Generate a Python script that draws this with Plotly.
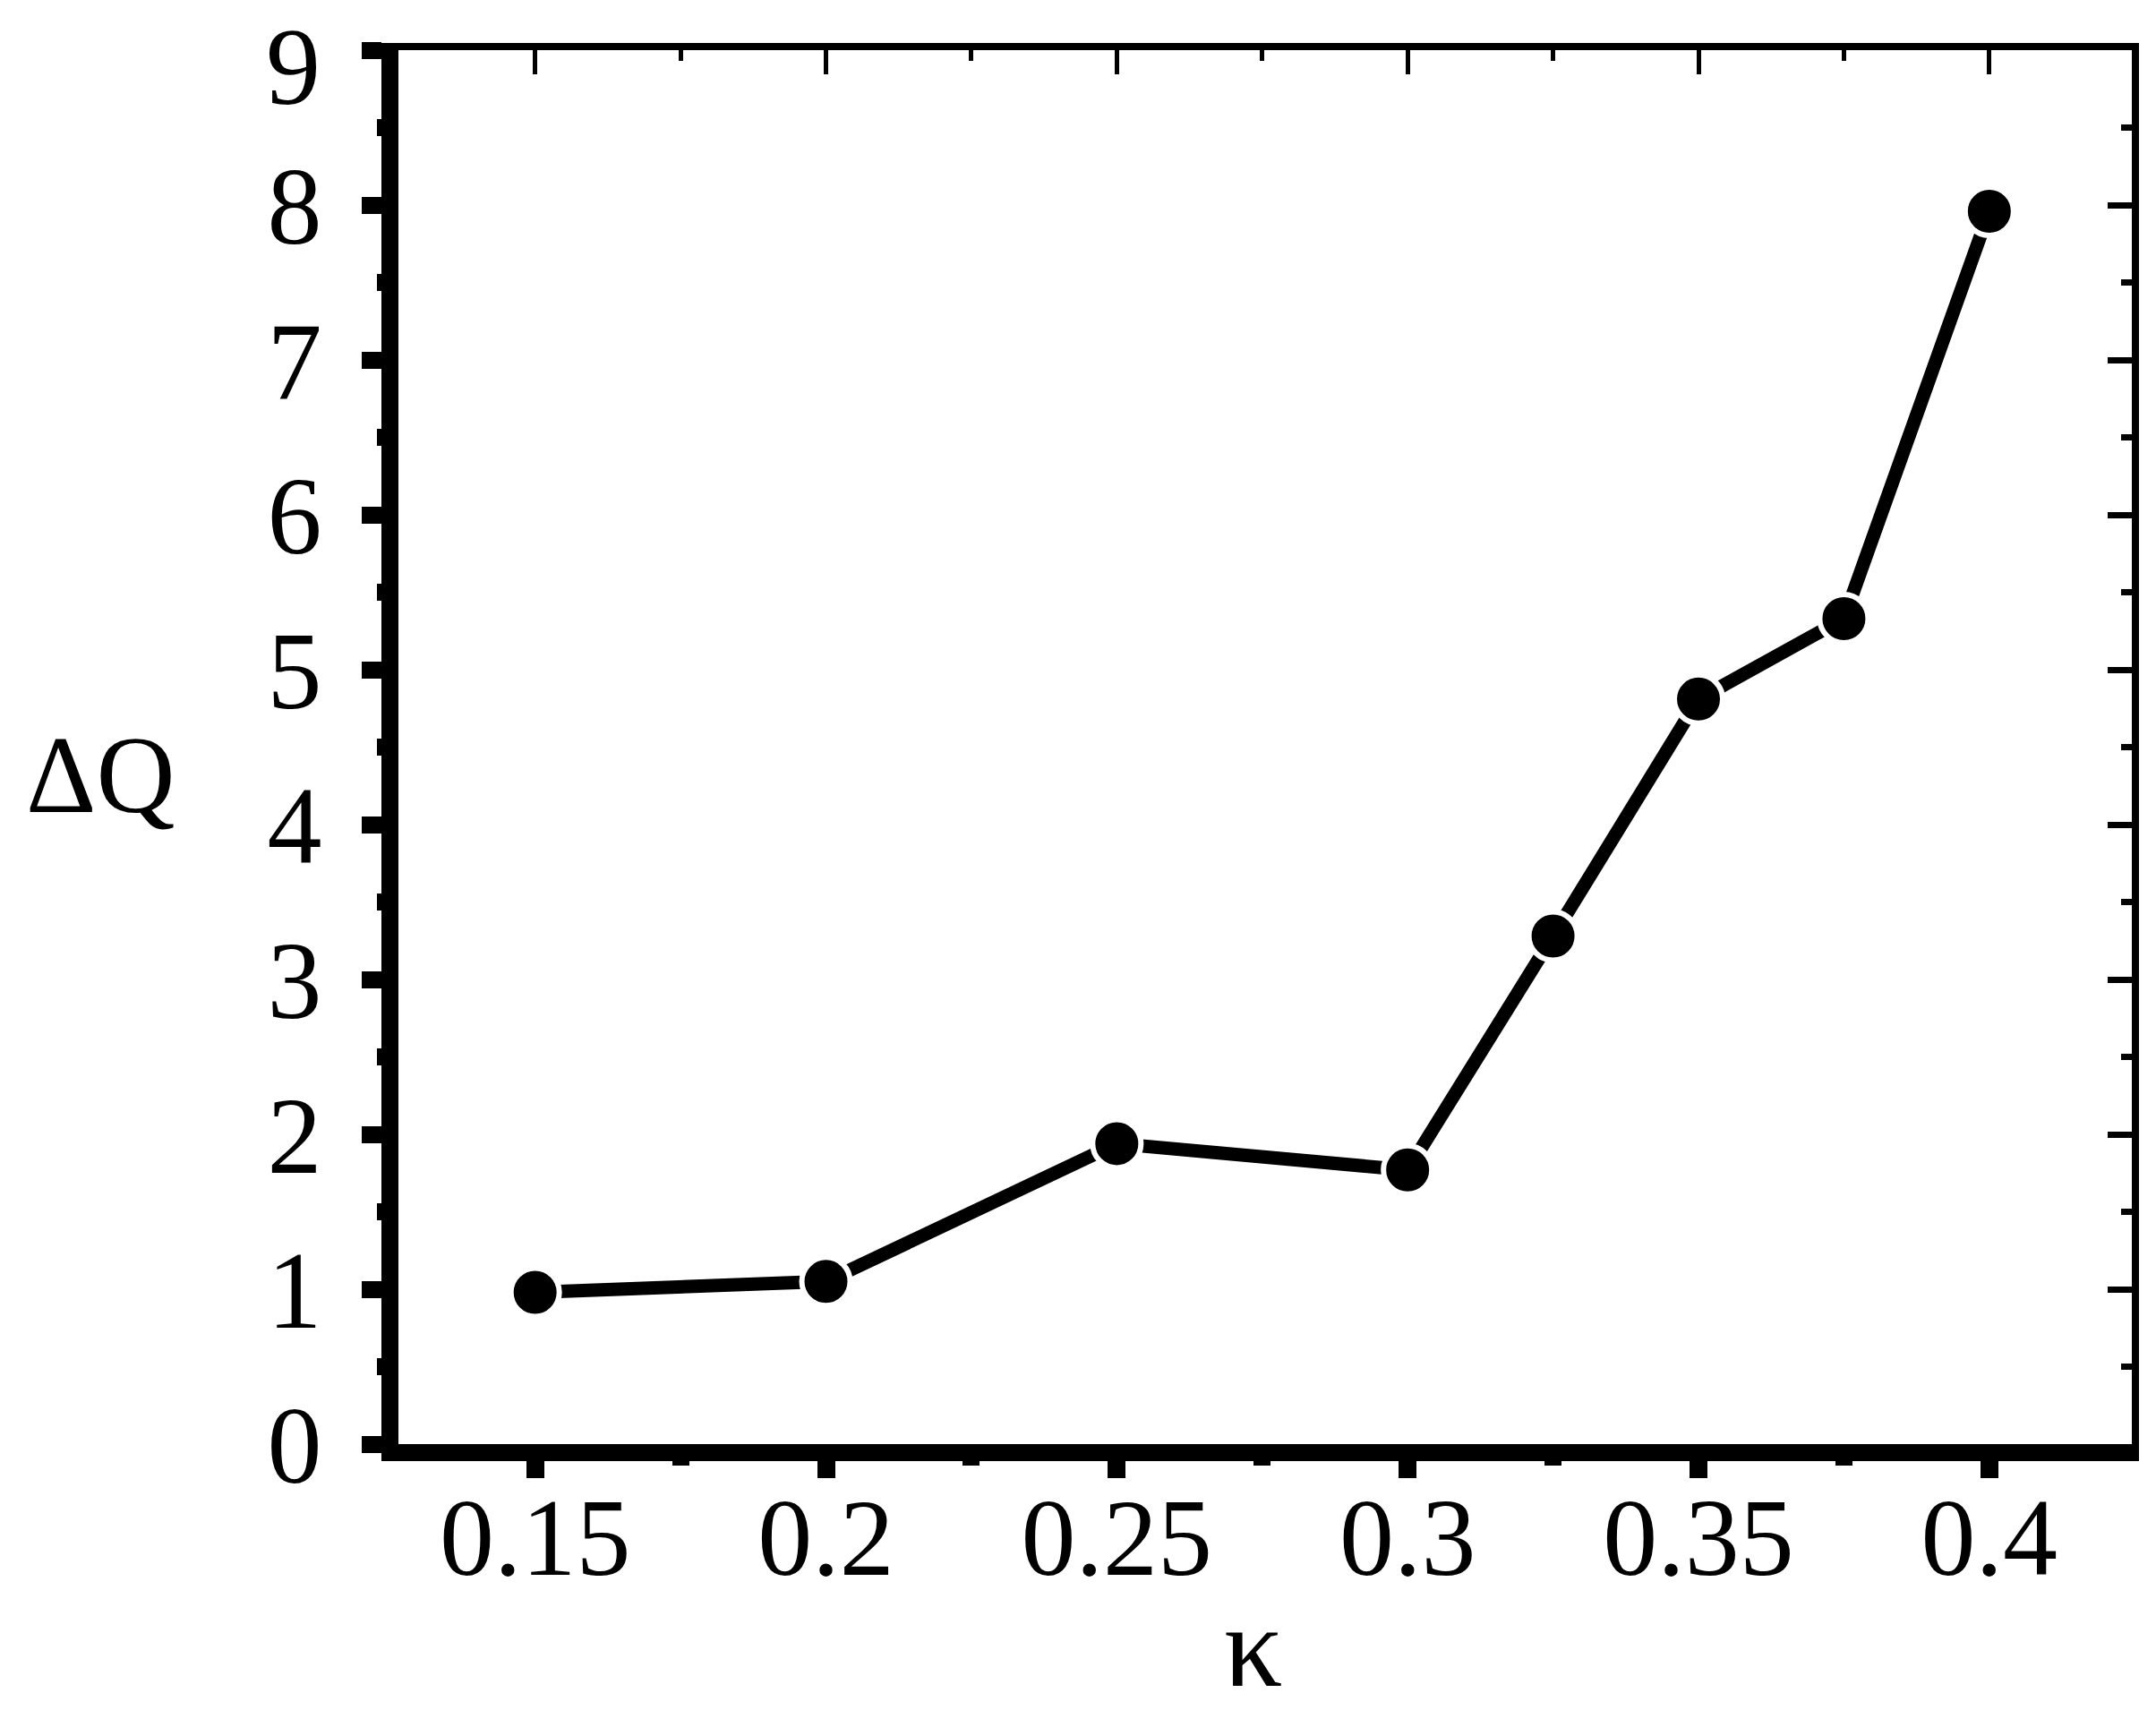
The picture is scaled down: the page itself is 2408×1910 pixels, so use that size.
import plotly.graph_objects as go

kappa = [0.15, 0.2, 0.25, 0.3, 0.325, 0.35, 0.375, 0.4]
delta_q = [0.98, 1.05, 1.94, 1.77, 3.28, 4.81, 5.33, 7.96]

x_ticks = [0.15, 0.2, 0.25, 0.3, 0.35, 0.4]
x_labels = ["0.15", "0.2", "0.25", "0.3", "0.35", "0.4"]
y_ticks = [0, 1, 2, 3, 4, 5, 6, 7, 8, 9]
# el "9" va aparte, un poco más abajo, como en el original
y_labels = ["0", "1", "2", "3", "4", "5", "6", "7", "8", ""]

fuente = "Liberation Serif"

fig = go.Figure()
fig.add_trace(go.Scatter(
    x=kappa, y=delta_q, mode="lines+markers",
    line=dict(color="black", width=15),
    marker=dict(color="black", size=54, line=dict(color="white", width=6)),
    showlegend=False, cliponaxis=False,
))

x_rango = [0.1265, 0.4245]
y_rango = [0, 9]

fig.update_layout(
    width=2408, height=1910,
    margin=dict(l=437, r=35, t=48, b=305),
    paper_bgcolor="white", plot_bgcolor="white",
    font=dict(family=fuente, size=122, color="black"),
    xaxis=dict(
        range=x_rango, tickvals=x_ticks, ticktext=x_labels, automargin=False,
        showline=True, linewidth=19, linecolor="black",
        ticks="outside", ticklen=19, tickwidth=20, tickcolor="black",
        minor=dict(dtick=0.025, tick0=0.125, ticks="outside", ticklen=5, tickwidth=19, tickcolor="black"),
        showgrid=False, zeroline=False, ticklabelstandoff=-38,
    ),
    yaxis=dict(
        range=y_rango, tickvals=y_ticks, ticktext=y_labels, automargin=False,
        showline=True, linewidth=19, linecolor="black",
        ticks="outside", ticklen=22, tickwidth=19, tickcolor="black",
        minor=dict(dtick=0.5, tick0=0, ticks="outside", ticklen=5, tickwidth=19, tickcolor="black"),
        showgrid=False, zeroline=False, ticklabelstandoff=20,
    ),
    xaxis2=dict(
        range=x_rango, overlaying="x", side="top", tickvals=x_ticks, showticklabels=False,
        showline=True, linewidth=8, linecolor="black", automargin=False,
        ticks="inside", ticklen=27, tickwidth=5, tickcolor="black",
        minor=dict(dtick=0.025, tick0=0.125, ticks="inside", ticklen=12, tickwidth=5, tickcolor="black"),
        showgrid=False, zeroline=False,
    ),
    yaxis2=dict(
        range=y_rango, overlaying="y", side="right", tickvals=y_ticks, showticklabels=False,
        showline=True, linewidth=8, linecolor="black", automargin=False,
        ticks="inside", ticklen=27, tickwidth=7, tickcolor="black",
        minor=dict(dtick=0.5, tick0=0, ticks="inside", ticklen=12, tickwidth=7, tickcolor="black"),
        showgrid=False, zeroline=False,
    ),
)

# trazas invisibles para que aparezcan los ejes espejo
fig.add_trace(go.Scatter(x=[None], y=[None], xaxis="x2", yaxis="y2", showlegend=False, hoverinfo="skip"))

fig.add_annotation(text="9", xref="paper", yref="paper", x=-0.044, y=0.988,
                   showarrow=False, font=dict(family=fuente, size=122), xanchor="right", yanchor="middle")
fig.add_annotation(text="ΔQ", xref="paper", yref="paper", x=-0.1715, y=0.48,
                   showarrow=False, font=dict(family=fuente, size=122), xanchor="center", yanchor="middle")
fig.add_annotation(text="κ", xref="paper", yref="paper", x=0.4933, y=-0.145,
                   showarrow=False, font=dict(family=fuente, size=130), xanchor="center", yanchor="middle")

fig.write_html("out.html")
